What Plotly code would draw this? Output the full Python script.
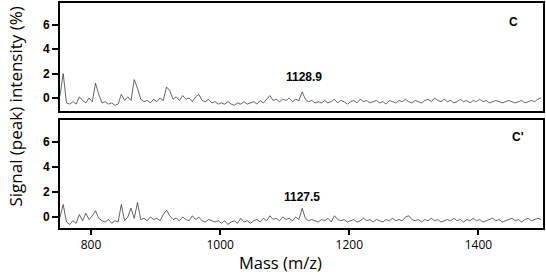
import plotly.graph_objects as go
from plotly.subplots import make_subplots

# mass axis: first point and step (m/z)
mass_start = 752
mass_step = 5

# spectrum C (top), one value every 5 m/z from 752
signal_c = [
    0.2, 2.0, -0.4, -0.5, -0.3, -0.5, 0.1, -0.2, -0.4, 0.0,
    -0.3, 1.2, 0.3, -0.4, -0.3, -0.5, -0.4, -0.6, -0.5, 0.3,
    -0.2, 0.1, -0.2, 1.5, 0.8, -0.1, -0.3, -0.2, -0.4, -0.1,
    -0.3, 0.0, -0.2, 0.9, 0.6, -0.1, 0.1, -0.2, 0.2, -0.1,
    0.0, -0.3, 0.1, 0.3, -0.2, -0.3, -0.1, -0.4, -0.3, -0.5,
    -0.4, -0.5, -0.3, -0.5, -0.6, -0.4, -0.5, -0.3, -0.5, -0.4,
    -0.3, -0.5, -0.2, -0.4, -0.1, 0.2, -0.2, -0.1, -0.3, -0.1,
    -0.2, 0.0, -0.3, -0.1, -0.2, 0.5, -0.1, -0.3, -0.2, -0.4,
    -0.3, -0.4, -0.2, -0.4, -0.3, -0.1, -0.4, -0.2, -0.3, -0.5,
    -0.3, -0.2, -0.4, -0.1, -0.3, -0.2, -0.4, -0.3, -0.2, -0.4,
    -0.3, -0.5, -0.2, -0.3, -0.4, -0.2, -0.3, -0.1, -0.3, -0.4,
    -0.2, -0.3, -0.4, -0.2, -0.1, -0.3, 0.0, -0.2, -0.3, -0.1,
    -0.3, -0.2, -0.4, -0.3, -0.1, -0.3, -0.2, -0.4, -0.2, -0.3,
    -0.1, -0.3, -0.2, -0.4, -0.3, -0.2, -0.3, -0.4, -0.3, -0.2,
    -0.3, -0.4, -0.3, -0.2, -0.4, -0.3, -0.2, -0.3, -0.1, 0.0,
]

# spectrum C' (bottom)
signal_c2 = [
    0.0, 1.0, -0.4, -0.6, -0.3, -0.5, 0.2, -0.3, 0.3, -0.2,
    0.1, 0.5, -0.1, -0.3, -0.4, -0.2, -0.5, -0.3, -0.4, 1.0,
    -0.3, 0.0, 0.7, -0.1, 1.15, -0.2, -0.1, -0.3, 0.0, -0.2,
    -0.1, -0.3, 0.2, 0.55, 0.1, -0.2, -0.1, -0.3, 0.0, -0.2,
    -0.3, 0.1, -0.2, 0.0, -0.3, -0.4, -0.2, -0.3, -0.4, -0.3,
    -0.5, -0.3, -0.6, -0.4, -0.3, -0.5, -0.1, -0.4, -0.3, -0.5,
    -0.3, -0.2, -0.4, -0.1, -0.3, 0.1, -0.2, -0.1, -0.3, 0.0,
    -0.2, -0.1, -0.3, 0.0, -0.2, 0.7, -0.1, -0.3, -0.2, -0.3,
    -0.4, -0.2, -0.3, -0.1, -0.4, 0.1, -0.2, -0.3, -0.2, -0.4,
    -0.3, -0.2, -0.4, -0.3, -0.1, -0.3, -0.2, -0.4, -0.2, -0.3,
    -0.4, -0.2, -0.3, -0.1, -0.3, -0.2, -0.3, 0.0, 0.1, -0.2,
    -0.3, -0.2, -0.4, -0.2, -0.3, -0.1, -0.3, -0.2, -0.4, -0.3,
    -0.2, -0.3, -0.1, -0.3, -0.2, -0.4, -0.2, -0.3, -0.1, -0.3,
    -0.2, -0.4, -0.3, -0.2, -0.1, -0.3, -0.2, -0.4, -0.3, -0.2,
    -0.1, -0.3, -0.2, -0.4, -0.2, -0.1, -0.3, -0.2, -0.1, -0.2,
]

panel_labels = ["C", "C'"]
peak_labels = ["1128.9", "1127.5"]
peak_mass = [1130, 1127]
x_ticks = [800, 1000, 1200, 1400]
y_ticks = [0, 2, 4, 6]

fig = make_subplots(rows=2, cols=1, shared_xaxes=False, vertical_spacing=0.04)

for i, sig in enumerate([signal_c, signal_c2]):
    fig.add_trace(go.Scatter(
        x0=mass_start, dx=mass_step, y=sig, mode='lines',
        line=dict(color='#222222', width=0.7), showlegend=False
    ), row=i + 1, col=1)

axis_common = dict(showline=True, linecolor='black', linewidth=2, mirror=True,
                   showgrid=False, zeroline=False, range=[752, 1500])
fig.update_xaxes(**axis_common)
fig.update_xaxes(showticklabels=False, ticks='', row=1, col=1)
fig.update_xaxes(tickvals=x_ticks, ticks='outside', ticklen=5, tickwidth=1.5,
                 tickcolor='black', row=2, col=1,
                 tickfont=dict(family='Open Sans', size=12, color='black'))

fig.update_yaxes(showline=True, linecolor='black', linewidth=2, mirror=True,
                 showgrid=False, zeroline=False, tickvals=y_ticks,
                 ticks='outside', ticklen=6, tickwidth=1.5, tickcolor='black',
                 tickfont=dict(family='Liberation Sans', size=12, color='black', weight='bold'))
fig.update_yaxes(range=[-1.06, 7.76], row=1, col=1)
fig.update_yaxes(range=[-0.88, 7.76], row=2, col=1)

fig.layout.xaxis.domain = [0, 1]
fig.layout.yaxis.domain = [0.52, 1]
fig.layout.yaxis2.domain = [0, 0.48]

annotations = [
    dict(text=panel_labels[0], x=1455, y=6.2, xref='x', yref='y'),
    dict(text=panel_labels[1], x=1461, y=6.4, xref='x2', yref='y2'),
    dict(text=peak_labels[0], x=peak_mass[0], y=1.7, xref='x', yref='y'),
    dict(text=peak_labels[1], x=peak_mass[1], y=1.6, xref='x2', yref='y2'),
]
for a in annotations:
    fig.add_annotation(showarrow=False, font=dict(family='Liberation Sans', size=12,
                       color='black', weight='bold'), **a)

fig.add_annotation(text='Mass (m/z)', x=0.456, y=-0.152, xref='paper', yref='paper',
                   showarrow=False, xanchor='center', yanchor='middle',
                   font=dict(family='Open Sans', size=16.5, color='black'))
fig.add_annotation(text='Signal (peak) intensity (%)', x=-0.093, y=0.54,
                   xref='paper', yref='paper', textangle=-90, showarrow=False,
                   xanchor='center', yanchor='middle',
                   font=dict(family='Open Sans', size=17, color='black'))

fig.update_layout(
    width=546, height=275,
    margin=dict(l=60, r=1, t=3, b=47),
    plot_bgcolor='white', paper_bgcolor='white',
)

# drop the default page margin so the figure sits at the window corner
fig.write_html("out.html", config={'displayModeBar': False},
               post_script="document.body.style.margin='0';")
